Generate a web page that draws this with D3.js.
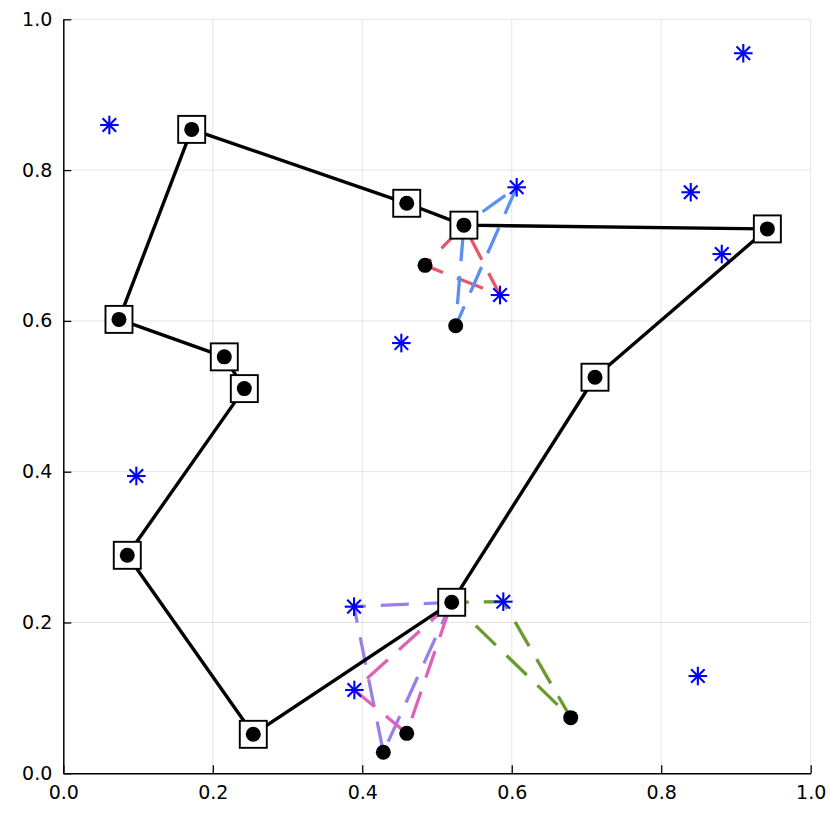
<!DOCTYPE html>
<html>
<head>
<meta charset="utf-8">
<script src="https://cdn.jsdelivr.net/npm/d3@7"></script>
<style>
  body { margin: 0; background: #fff; }
  svg { display: block; }
  .tick text { font-family: "DejaVu Sans", sans-serif; font-size: 19px; fill: #000; }
</style>
</head>
<body>
<div id="chart"></div>
<script>
// tour nodes (square markers), in visiting order, closed loop
const tourX = [0.1718, 0.4595, 0.5360, 0.9420, 0.7114, 0.5197, 0.2542, 0.0856, 0.2422, 0.2154, 0.0745];
const tourY = [0.8540, 0.7560, 0.7270, 0.7220, 0.5253, 0.2268, 0.0517, 0.2891, 0.5102, 0.5523, 0.6020];

// other black dots (no square)
const dotX = [0.4840, 0.5250, 0.4595, 0.4282, 0.6789];
const dotY = [0.6737, 0.5936, 0.0530, 0.0279, 0.0738];

// blue star points
const starX = [0.0616, 0.9098, 0.8395, 0.8810, 0.6066, 0.5843, 0.4523, 0.0977, 0.3890, 0.5887, 0.3894, 0.8490];
const starY = [0.8598, 0.9550, 0.7706, 0.6887, 0.7772, 0.6343, 0.5706, 0.3943, 0.2210, 0.2276, 0.1105, 0.1290];

// dashed loops: tour node -> star -> dot -> tour node
const loopNode = [2, 2, 5, 5, 5];
const loopStar = [5, 4, 8, 10, 9];
const loopDot = [0, 1, 3, 2, 4];
const loopColor = ["#e8566b", "#5b8ff0", "#9a80e6", "#de62b8", "#6b9b2f"];
const loopOffset = [32, 20, 0, 0, 11];

const ticks = [0, 0.2, 0.4, 0.6, 0.8, 1.0];

const width = 830;
const height = 830;
const padL = 63.3, padR = 810.7, padT = 19.3, padB = 773.3;

var svg = d3.select("#chart")
	.append("svg")
	.attr("width", width)
	.attr("height", height);

var x = d3.scaleLinear().domain([0, 1]).range([padL, padR]);
var y = d3.scaleLinear().domain([0, 1]).range([padB, padT]);

// grid
var grid = svg.append("g").attr("stroke", "rgba(0,0,0,0.1)").attr("stroke-width", 1);
grid.selectAll(".gx")
	.data(ticks.slice(1))
	.enter()
	.append("line")
	.attr("x1", (d) => x(d)).attr("x2", (d) => x(d))
	.attr("y1", padT).attr("y2", padB);
grid.selectAll(".gy")
	.data(ticks.slice(1))
	.enter()
	.append("line")
	.attr("y1", (d) => y(d)).attr("y2", (d) => y(d))
	.attr("x1", padL).attr("x2", padR);

// axes
var xAxis = d3.axisBottom(x).tickValues(ticks).tickFormat(d3.format(".1f"))
	.tickSizeInner(-8).tickSizeOuter(0).tickPadding(12);
var yAxis = d3.axisLeft(y).tickValues(ticks).tickFormat(d3.format(".1f"))
	.tickSizeInner(-8).tickSizeOuter(0).tickPadding(11);

var gx = svg.append("g").attr("transform", `translate(0, ${padB})`).call(xAxis);
var gy = svg.append("g").attr("transform", `translate(${padL}, 0)`).call(yAxis);
[gx, gy].forEach((g) => {
	g.attr("font-family", null).attr("font-size", null);
	g.select(".domain").attr("stroke", "#000").attr("stroke-width", 1.5);
	g.selectAll(".tick line").attr("stroke", "#000").attr("stroke-width", 1.3);
});

// dashed loops
var line = d3.line().x((d) => x(d[0])).y((d) => y(d[1]));
loopNode.forEach((n, i) => {
	var s = loopStar[i], k = loopDot[i];
	var pts = [
		[tourX[n], tourY[n]],
		[starX[s], starY[s]],
		[dotX[k], dotY[k]],
		[tourX[n], tourY[n]]
	];
	svg.append("path")
		.attr("d", line(pts))
		.attr("fill", "none")
		.attr("stroke", loopColor[i])
		.attr("stroke-width", 3.3)
		.attr("stroke-dasharray", "28,15")
		.attr("stroke-dashoffset", loopOffset[i]);
});

// tour line
var tourPts = tourX.map((d, i) => [d, tourY[i]]);
tourPts.push(tourPts[0]);
svg.append("path")
	.attr("d", line(tourPts))
	.attr("fill", "none")
	.attr("stroke", "#000")
	.attr("stroke-width", 3.4)
	.attr("stroke-linejoin", "round");

// stars
var starG = svg.append("g").attr("stroke", "#0000ff").attr("stroke-width", 2.1);
starX.forEach((sx, i) => {
	var cx = x(sx), cy = y(starY[i]), r = 9.3, rd = 6.8;
	var g = starG.append("g").attr("transform", `translate(${cx}, ${cy})`);
	g.append("line").attr("x1", -r).attr("x2", r).attr("y1", 0).attr("y2", 0);
	g.append("line").attr("x1", 0).attr("x2", 0).attr("y1", -r).attr("y2", r);
	g.append("line").attr("x1", -rd).attr("x2", rd).attr("y1", -rd).attr("y2", rd);
	g.append("line").attr("x1", -rd).attr("x2", rd).attr("y1", rd).attr("y2", -rd);
});

// squares
svg.append("g")
	.selectAll("rect")
	.data(tourPts.slice(0, -1))
	.enter()
	.append("rect")
	.attr("x", (d) => x(d[0]) - 13.5)
	.attr("y", (d) => y(d[1]) - 13.5)
	.attr("width", 27)
	.attr("height", 27)
	.attr("fill", "#fff")
	.attr("stroke", "#000")
	.attr("stroke-width", 1.9);

// dots
var allDots = tourPts.slice(0, -1).concat(dotX.map((d, i) => [d, dotY[i]]));
svg.append("g")
	.selectAll("circle")
	.data(allDots)
	.enter()
	.append("circle")
	.attr("cx", (d) => x(d[0]))
	.attr("cy", (d) => y(d[1]))
	.attr("r", 7.5)
	.attr("fill", "#000");
</script>
</body>
</html>
